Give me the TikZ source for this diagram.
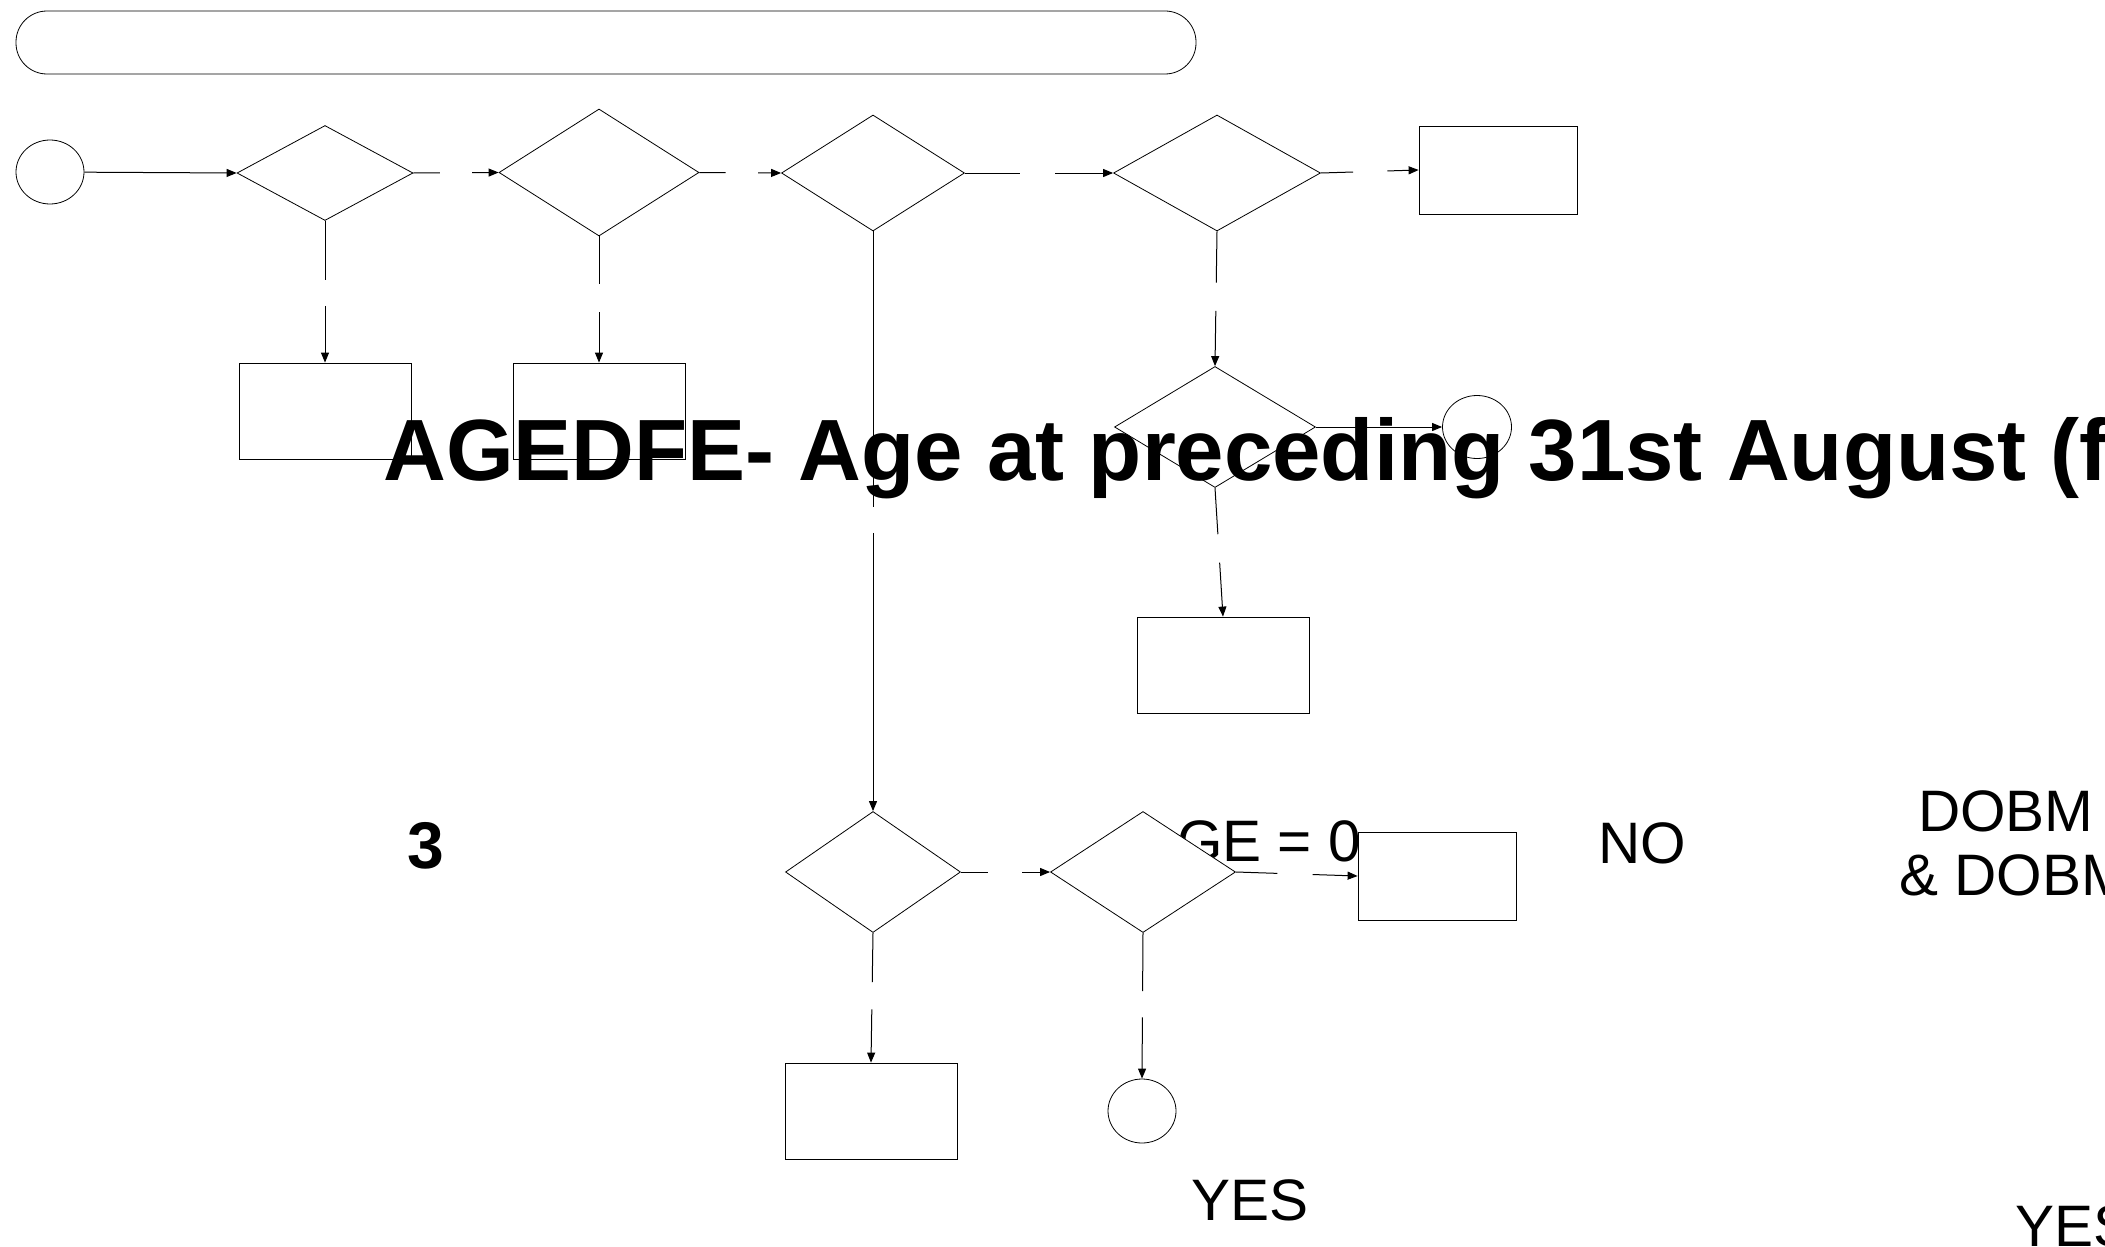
\documentclass[tikz,border=0pt]{standalone}
\usepackage{fontspec}
\setmainfont{Liberation Sans}
\usetikzlibrary{positioning, arrows.meta, shapes.geometric, calc}

\begin{document}
\begin{tikzpicture}[x=1pt, y=-1pt, >={Triangle[length=10pt, width=8pt]},
    decision/.style={draw, diamond, fill=white, inner sep=0pt, line width=0.8pt},
    process/.style={draw, rectangle, fill=white, inner sep=0pt, minimum width=172pt, minimum height=96pt, line width=0.8pt},
    terminal/.style={draw, ellipse, fill=white, inner sep=0pt, minimum width=68pt, minimum height=64pt, line width=0.8pt},
    link/.style={line width=1pt},
    arrow/.style={->, line width=1pt},
    plain/.style={anchor=base west, inner sep=0pt, font=\fontsize{58.5}{66}\selectfont}]
    \useasboundingbox (0,0) rectangle (2105,1247);
    % text that sits behind the lower shapes
    \node[plain] (agezero) at (1177,861) {GE = 0};

    % top row
    \node[draw, rounded corners=31pt, minimum width=1180pt, minimum height=63pt, line width=0.8pt] (header) at (606,42.5) {};
    \node[terminal] (start) at (50,172) {};
    \node[decision, minimum width=176pt, minimum height=95pt] (d1) at (325,173) {};
    \node[decision, minimum width=200pt, minimum height=127pt] (d2) at (599,172.5) {};
    \node[decision, minimum width=183pt, minimum height=116pt] (d3) at (873,173) {};
    \node[decision, minimum width=207pt, minimum height=116pt] (d4) at (1217,173) {};
    \node[process, minimum width=158pt, minimum height=88pt] (boxR) at (1498,170) {};
    \node[process] (box1) at (325,411) {};
    \node[process] (box2) at (599,411) {};
    % right branch
    \node[decision, minimum width=201pt, minimum height=121pt] (d6) at (1215,427) {};
    \node[terminal, minimum width=69pt, minimum height=63pt] (stop1) at (1477,427) {};
    \node[process] (box3) at (1223,665) {};
    % bottom row
    \node[decision, minimum width=175pt, minimum height=121pt] (d5) at (873,872) {};
    \node[decision, minimum width=185pt, minimum height=121pt] (d7) at (1143,872) {};
    \node[process, minimum width=158pt, minimum height=88pt] (box4) at (1437,876) {};
    \node[process] (box5) at (871,1111) {};
    \node[terminal] (stop2) at (1142,1111) {};

    \draw[arrow] (start) -- (d1.west);
    \draw[link] (d1.east) -- ($(d1.east)!.31!(d2.west)$);
    \draw[arrow] ($(d1.east)!.69!(d2.west)$) -- (d2.west);
    \draw[link] (d2.east) -- ($(d2.east)!.32!(d3.west)$);
    \draw[arrow] ($(d2.east)!.72!(d3.west)$) -- (d3.west);
    \draw[link] (d3.east) -- ($(d3.east)!.37!(d4.west)$);
    \draw[arrow] ($(d3.east)!.61!(d4.west)$) -- (d4.west);
    \draw[link] (d4.east) -- ($(d4.east)!.33!(boxR.west)$);
    \draw[arrow] ($(d4.east)!.68!(boxR.west)$) -- (boxR.west);
    \draw[link] (d1.south) -- ($(d1.south)!.42!(box1.north)$);
    \draw[arrow] ($(d1.south)!.60!(box1.north)$) -- (box1.north);
    \draw[link] (d2.south) -- ($(d2.south)!.38!(box2.north)$);
    \draw[arrow] ($(d2.south)!.60!(box2.north)$) -- (box2.north);
    \draw[link] (d3.south) -- ($(d3.south)!.475!(d5.north)$);
    \draw[arrow] ($(d3.south)!.52!(d5.north)$) -- (d5.north);
    \draw[link] (d4.south) -- ($(d4.south)!.38!(d6.north)$);
    \draw[arrow] ($(d4.south)!.59!(d6.north)$) -- (d6.north);
    \draw[arrow] (d6.east) -- (stop1.west);
    \draw[link] (d6.south) -- ($(d6.south)!.36!(box3.north)$);
    \draw[arrow] ($(d6.south)!.58!(box3.north)$) -- (box3.north);
    \draw[link] (d5.east) -- ($(d5.east)!.30!(d7.west)$);
    \draw[arrow] ($(d5.east)!.69!(d7.west)$) -- (d7.west);
    \draw[link] (d7.east) -- ($(d7.east)!.34!(box4.west)$);
    \draw[arrow] ($(d7.east)!.63!(box4.west)$) -- (box4.west);
    \draw[link] (d5.south) -- ($(d5.south)!.38!(box5.north)$);
    \draw[arrow] ($(d5.south)!.59!(box5.north)$) -- (box5.north);
    \draw[link] (d7.south) -- ($(d7.south)!.40!(stop2.north)$);
    \draw[arrow] ($(d7.south)!.58!(stop2.north)$) -- (stop2.north);

    % texts on top
    \node[plain, font=\fontsize{87}{100}\selectfont\bfseries] (title) at (383,480) {AGEDFE- Age at preceding 31st August (f};
    \node[plain, font=\fontsize{66}{76}\selectfont\bfseries] (three) at (407,868) {3};
    \node[plain] (no) at (1598,863) {NO};
    \node[plain] (dobm) at (1918,831) {DOBM};
    \node[plain] (anddobm) at (1899,895) {\& DOBM};
    \node[plain] (yes1) at (1191,1220) {YES};
    \node[plain] (yes2) at (2015,1246) {YES};
\end{tikzpicture}
\end{document}
